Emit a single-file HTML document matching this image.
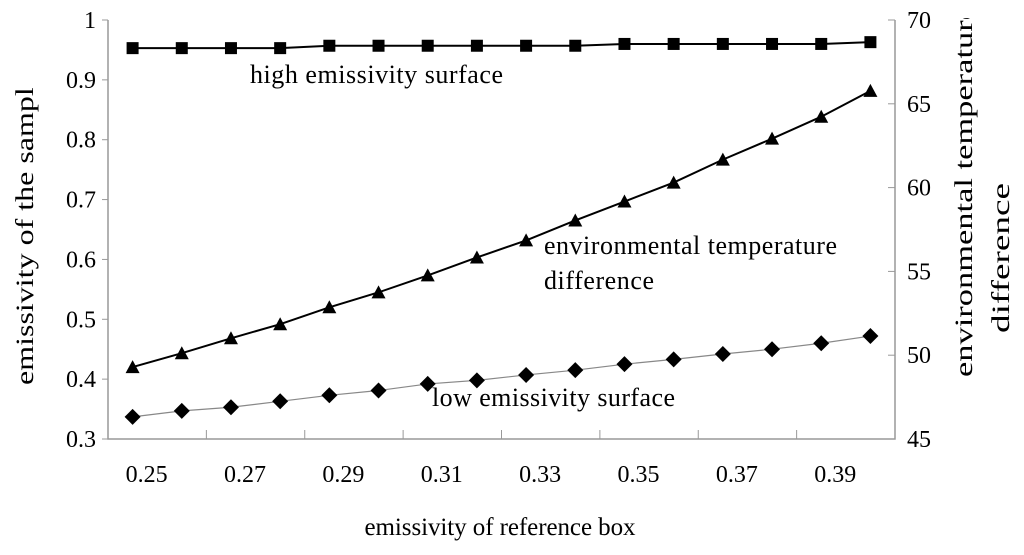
<!DOCTYPE html>
<html><head><meta charset="utf-8"><style>
body{margin:0;background:#fff}
svg{display:block;font-family:"Liberation Serif",serif}
</style></head><body>
<svg id="c" width="1024" height="555">
<defs>
<clipPath id="clipL"><rect x="0" y="88" width="60" height="400"/></clipPath>
<clipPath id="clipR"><rect x="930" y="18" width="94" height="400"/></clipPath>
</defs>
</svg>
<script>
const categories=[0.25,0.26,0.27,0.28,0.29,0.30,0.31,0.32,0.33,0.34,0.35,0.36,0.37,0.38,0.39,0.40];
const highEmissivity=[0.953,0.953,0.953,0.953,0.957,0.957,0.957,0.957,0.957,0.957,0.960,0.960,0.960,0.960,0.960,0.963];
const lowEmissivity=[0.337,0.347,0.353,0.363,0.373,0.381,0.392,0.398,0.407,0.415,0.425,0.433,0.442,0.450,0.460,0.472];
const envTempDiff=[49.29,50.12,51.01,51.85,52.86,53.75,54.76,55.83,56.85,58.04,59.17,60.30,61.67,62.92,64.23,65.77];
const leftTicks=[0.3,0.4,0.5,0.6,0.7,0.8,0.9,1];
const rightTicks=[45,50,55,60,65,70];
const xTickLabels=["0.25","0.27","0.29","0.31","0.33","0.35","0.37","0.39"];

const NS="http://www.w3.org/2000/svg",svg=document.getElementById('c');
const X0=108,X1=895,Y0=439,Y1=20;
const cw=(X1-X0)/categories.length;
const xs=i=>X0+cw*(i+0.5);
const yl=v=>Y0-(v-0.3)/(1-0.3)*(Y0-Y1);
const yr=v=>Y0-(v-45)/(70-45)*(Y0-Y1);
function mk(t,a,p){const e=document.createElementNS(NS,t);for(const k in a)e.setAttribute(k,a[k]);(p||svg).appendChild(e);return e;}
function txt(s,x,y,a,name,extra,parent){const e=mk('text',Object.assign({x:x,y:y,'font-size':24,'text-anchor':a,fill:'#000'},extra||{}),parent);e.textContent=s;


return e;}

const ax=mk('path',{d:`M${X0},${Y1}V${Y0}H${X1}V${Y1}`,fill:'none',stroke:'#999','stroke-width':1.5});


leftTicks.forEach(v=>{mk('line',{x1:X0-6,x2:X0,y1:yl(v),y2:yl(v),stroke:'#999'});
txt(String(v),96,yl(v)+8,'end','left-tick-label');});
rightTicks.forEach(v=>{mk('line',{x1:X1-7,x2:X1,y1:yr(v),y2:yr(v),stroke:'#999'});
txt(String(v),907,yr(v)+8,'start','right-tick-label');});
for(let k=2;k<categories.length;k+=2){mk('line',{x1:X0+k*cw,x2:X0+k*cw,y1:Y0-9,y2:Y0,stroke:'#999'});}
xTickLabels.forEach((s,j)=>{txt(s,xs(j*2)+14,Y0+43,'middle','x-tick-label');});

function series(vals,yf,stroke,sw,marker,name){
 const g=mk('g',{});
 
 
 mk('polyline',{points:vals.map((v,i)=>xs(i)+','+yf(v)).join(' '),fill:'none',stroke:stroke,'stroke-width':sw},g);
 vals.forEach((v,i)=>{const x=xs(i),y=yf(v);let m;
  if(marker==='sq')m=mk('rect',{x:x-6,y:y-6,width:12,height:12,fill:'#000'},g);
  else if(marker==='tri')m=mk('polygon',{points:`${x},${y-7} ${x-7},${y+6} ${x+7},${y+6}`,fill:'#000'},g);
  else m=mk('polygon',{points:`${x},${y-8} ${x+8},${y} ${x},${y+8} ${x-8},${y}`,fill:'#000'},g);
  
  });
}
series(lowEmissivity,yl,'#888',1.2,'dia','low-emissivity-series');
series(envTempDiff,yr,'#000',2,'tri','env-temp-series');
series(highEmissivity,yl,'#000',2,'sq','high-emissivity-series');

txt('high emissivity surface',250,83,'start','high-emissivity-label',{textLength:253,'font-size':26});
txt('environmental temperature',544,254,'start','env-temp-label',{textLength:293,'font-size':26});
txt('difference',544,289,'start','env-temp-label-2',{textLength:110,'font-size':26});
txt('low emissivity surface',432,406,'start','low-emissivity-label',{textLength:243,'font-size':26});
txt('emissivity of reference box',500,535,'middle','x-axis-title',{textLength:271,'font-size':25});

const gL=mk('g',{'clip-path':'url(#clipL)'});
txt('emissivity of the sample',0,0,'start','y-axis-title',{transform:'translate(33 385) rotate(-90)',textLength:312,lengthAdjust:'spacingAndGlyphs','font-size':25},gL);
const gR=mk('g',{'clip-path':'url(#clipR)'});
txt('environmental temperature',0,0,'start','right-axis-title',{transform:'translate(972 377) rotate(-90)',textLength:372,lengthAdjust:'spacingAndGlyphs','font-size':25},gR);
txt('difference',0,0,'middle','right-axis-title-2',{transform:'translate(1009 258) rotate(-90)',textLength:150,lengthAdjust:'spacingAndGlyphs','font-size':25});
</script>
</body></html>
